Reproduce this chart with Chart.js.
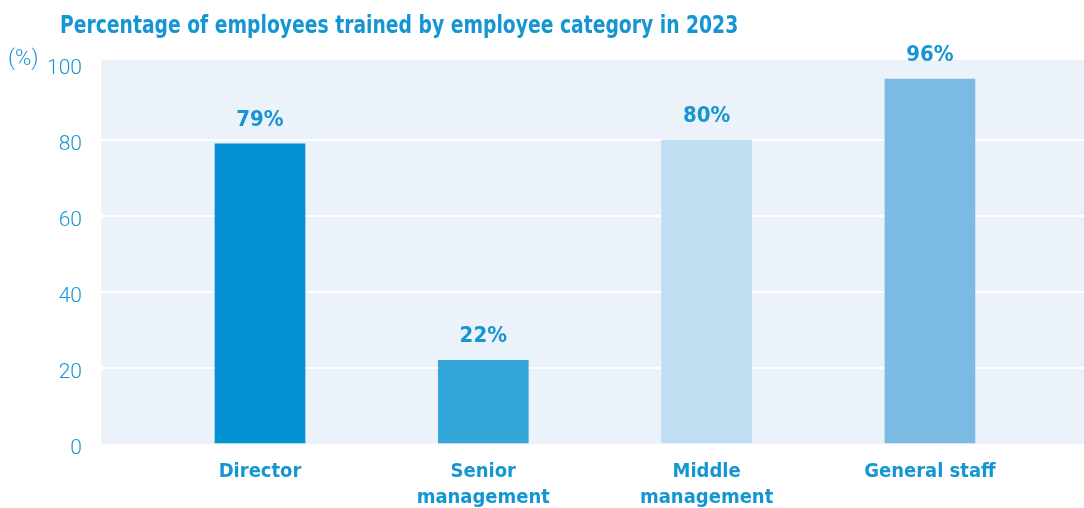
<!DOCTYPE html>
<html>
<head>
<meta charset="utf-8">
<script src="https://cdn.jsdelivr.net/npm/chart.js@4"></script>
<style>
  html, body { margin: 0; padding: 0; background: #fff; }
  #wrap { position: relative; width: 1084px; height: 508px; }
  #title {
    position: absolute; left: 60px; top: 10px; margin: 0;
    font: bold 25px 'Liberation Sans Narrow', 'DejaVu Sans Condensed', sans-serif;
    color: #1596d3; white-space: nowrap;
    transform: scaleX(0.834); transform-origin: left center;
  }
  #unit {
    position: absolute; left: 8px; top: 45px;
    font: 300 22px Roboto, sans-serif; color: #1596d3;
  }
</style>
</head>
<body>
<div id="wrap">
  <h1 id="title">Percentage of employees trained by employee category in 2023</h1>
  <div id="unit">(%)</div>
  <canvas id="trainedchart" width="1084" height="508"></canvas>
</div>
<script>
// categories and values
const categories = [['Director'], ['Senior', 'management'], ['Middle', 'management'], ['General staff']];
const percentTrained = [79, 22, 80, 96];
const barColors = ['#0391d1', '#35a6da', '#c1ddf2', '#7bbae3'];
const yTicks = [0, 20, 40, 60, 80, 100];

const blue = '#1596d3';

// light blue panel behind the plot, a bit taller than the axis
const panelBg = {
  id: 'panelBg',
  beforeDraw(chart) {
    const { ctx, chartArea } = chart;
    ctx.save();
    ctx.fillStyle = '#ebf2fa';
    ctx.fillRect(chartArea.left, chartArea.top - 4, chartArea.right - chartArea.left, chartArea.bottom - chartArea.top + 4);
    ctx.restore();
  }
};

// percentage labels above the bars
const valueLabels = {
  id: 'valueLabels',
  afterDatasetsDraw(chart) {
    const { ctx } = chart;
    const meta = chart.getDatasetMeta(0);
    ctx.save();
    ctx.fillStyle = blue;
    ctx.font = "bold 22px 'Liberation Sans Narrow', 'DejaVu Sans Condensed', sans-serif";
    ctx.textAlign = 'center';
    ctx.textBaseline = 'middle';
    meta.data.forEach((bar, i) => {
      ctx.fillText(percentTrained[i] + '%', bar.x, bar.y - 24);
    });
    ctx.restore();
  }
};

const ctx = document.getElementById('trainedchart').getContext('2d');
new Chart(ctx, {
  type: 'bar',
  data: {
    datasets: [{
      data: percentTrained.map((v, i) => ({ x: i, y: v })),
      backgroundColor: barColors,
      barThickness: 90,
      borderWidth: 0
    }]
  },
  options: {
    responsive: false,
    animation: false,
    layout: { padding: { top: 64, right: 0, left: 0, bottom: 0 } },
    plugins: {
      legend: { display: false },
      tooltip: { enabled: false },
      title: { display: false }
    },
    scales: {
      x: {
        type: 'linear',
        offset: false,
        min: -0.712,
        max: 3.69,
        grid: { display: false },
        border: { display: false },
        afterFit(scale) { scale.height = 64; },
        ticks: {
          stepSize: 1,
          includeBounds: false,
          autoSkip: false,
          maxRotation: 0,
          minRotation: 0,
          padding: 7,
          color: blue,
          font: { family: "'Liberation Sans Narrow', 'DejaVu Sans Condensed', sans-serif", size: 20, weight: 'bold', lineHeight: 1.3 },
          callback: (value) => Number.isInteger(value) && categories[value] ? categories[value] : ''
        }
      },
      y: {
        min: 0,
        max: 100,
        afterFit(scale) { scale.width = 101; },
        afterBuildTicks(scale) { scale.ticks = yTicks.map(v => ({ value: v })); },
        border: { display: false },
        grid: {
          drawTicks: false,
          lineWidth: 2,
          color: (c) => (c.tick && (c.tick.value === 0 || c.tick.value === 100)) ? 'rgba(0,0,0,0)' : '#ffffff'
        },
        ticks: {
          padding: 19,
          labelOffset: 5,
          color: blue,
          font: { family: 'Roboto', size: 21, weight: 300 }
        }
      }
    }
  },
  plugins: [panelBg, valueLabels]
});
</script>
</body>
</html>
